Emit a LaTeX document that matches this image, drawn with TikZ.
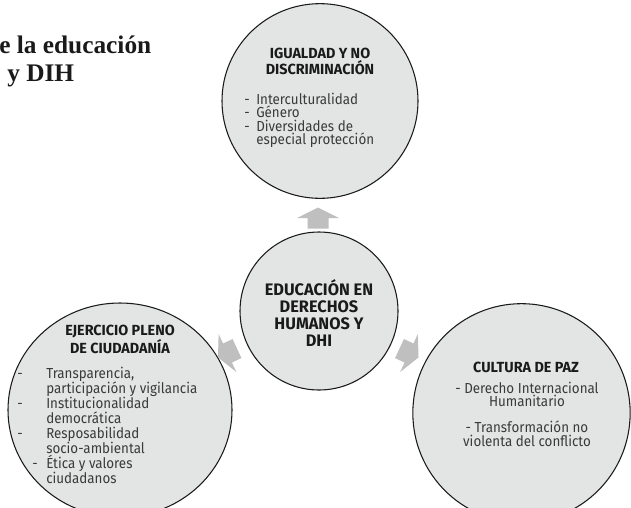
\documentclass[tikz,border=0pt]{standalone}
\usepackage{fontspec}
\setmainfont{Liberation Serif}
\newfontfamily\dfont[FakeStretch=0.92]{Fira Sans}
\newfontfamily\hfont[FakeStretch=0.98]{Fira Sans}
\usetikzlibrary{shapes.geometric}

\definecolor{discfill}{HTML}{E3E4E4}
\definecolor{arrowgray}{HTML}{BFBFBF}
\definecolor{ink}{HTML}{1A1A1A}
\definecolor{bodyink}{HTML}{3A3A3A}

\tikzset{
  disc/.style={ellipse, draw=ink, line width=0.8pt, fill=discfill, inner sep=0pt},
  headtext/.style={font=\hfont\bfseries\fontsize{11}{10}\selectfont, text=ink, align=center, inner sep=0pt, anchor=north},
  coretext/.style={font=\hfont\bfseries\fontsize{12.5}{12.75}\selectfont, text=ink, align=center, inner sep=0pt, anchor=north},
  listtext/.style={font=\dfont\fontsize{10.9}{10}\selectfont, text=bodyink, align=left, inner sep=0pt, anchor=north west},
  titletext/.style={font=\bfseries\fontsize{19}{21}\selectfont, text=ink, anchor=base west, inner sep=0pt},
  blockarrow/.pic={
    \fill[arrowgray] (-10.5,-10.5) -- (0,-10.5) -- (0,-21) -- (10.5,0)
      -- (0,21) -- (0,10.5) -- (-10.5,10.5) -- cycle;
  }
}
\newcommand{\dashitem}[1]{\makebox[#1][l]{-}}

\begin{document}
\begin{tikzpicture}[x=0.75pt,y=-0.75pt]
  \useasboundingbox (0,0) rectangle (631,507);
  \clip (0,0) rectangle (631,507);

  % title lines
  \node[titletext] (title1) at (-1,53) {e la educación};
  \node[titletext] (title2) at (7,81) {y DIH};

  % the four discs
  \node[disc, minimum width=147pt, minimum height=146pt] (igualdad) at (320,101) {};
  \node[disc, minimum width=118.5pt, minimum height=118.5pt] (core) at (319,311) {};
  \node[disc, minimum width=168pt, minimum height=160.5pt] (ciudadania) at (120,410) {};
  \node[disc, minimum width=163pt, minimum height=164pt] (paz) at (521.5,413) {};

  % block arrows radiating from the centre
  \pic[rotate=90] (upA) at (318,218) {blockarrow};
  \pic[rotate=205] (leftA) at (227.5,353) {blockarrow};
  \pic[rotate=335] (rightA) at (409,353) {blockarrow};

  % top disc text
  \node[headtext] (igualdadH) at (320,48) {IGUALDAD Y NO\\DISCRIMINACIÓN};
  \node[listtext] (igualdadL) at (244,93) {%
    \dashitem{9pt}Interculturalidad\\
    \dashitem{9pt}Género\\
    \dashitem{9pt}Diversidades de\\
    \hspace*{9pt}especial protección};

  % centre disc text
  \node[coretext] (coreT) at (319,279) {EDUCACIÓN EN\\DERECHOS\\HUMANOS Y\\DHI};

  % left disc text
  \node[headtext] (ciudadaniaH) at (120,325) {EJERCICIO PLENO\\DE CIUDADANÍA};
  \node[listtext, font=\dfont\fontsize{10.9}{11.25}\selectfont] (ciudadaniaL) at (17,367) {%
    \dashitem{21.75pt}Transparencia,\\
    \hspace*{21.75pt}participación y vigilancia\\
    \dashitem{21.75pt}Institucionalidad\\
    \hspace*{21.75pt}democrática\\
    \dashitem{21.75pt}Resposabilidad\\
    \hspace*{21.75pt}socio-ambiental\\
    \hspace*{11.25pt}\dashitem{10.5pt}Ética y valores\\
    \hspace*{21.75pt}ciudadanos};

  % right disc text
  \node[headtext] (pazH) at (526,362) {CULTURA DE PAZ};
  \node[listtext, align=center, anchor=north] (pazL) at (527,382) {%
    - Derecho Internacional\\
    Humanitario\\[9.5pt]
    - Transformación no\\
    violenta del conflicto};
\end{tikzpicture}
\end{document}
